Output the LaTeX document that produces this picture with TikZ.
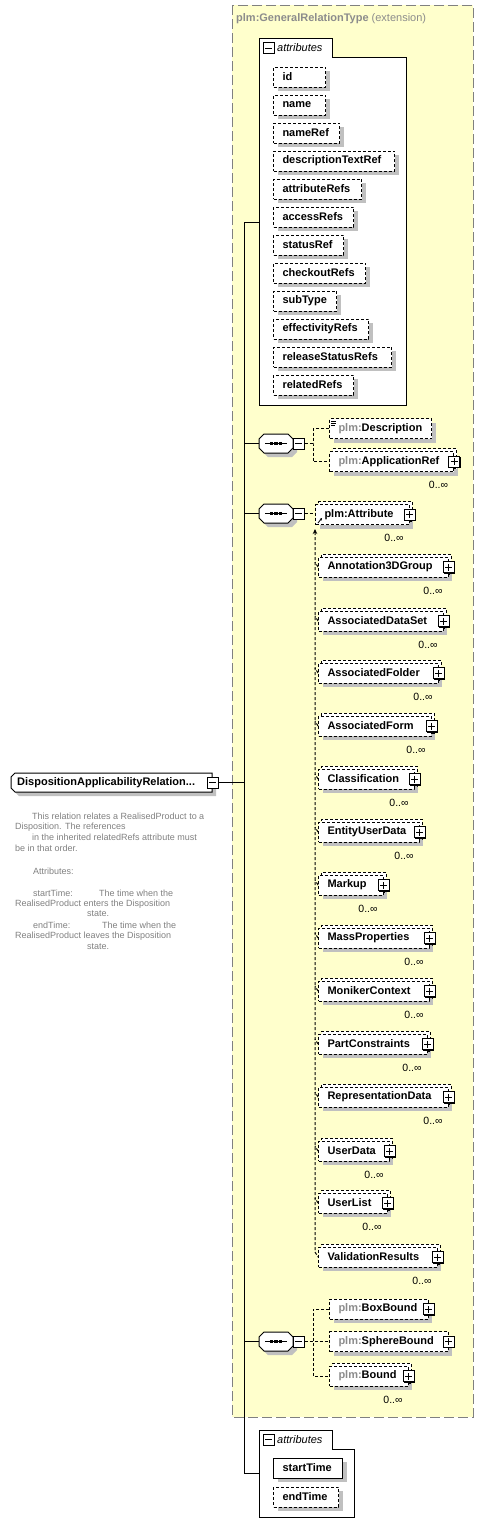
\documentclass[tikz,border=0pt]{standalone}
\usepackage{fontspec}
\setmainfont{Liberation Sans}
\usetikzlibrary{shadows,arrows.meta}
\definecolor{ylw}{RGB}{255,255,204}
\definecolor{gtxt}{RGB}{140,140,140}
\definecolor{dtxt}{RGB}{128,128,128}
\definecolor{shd}{RGB}{192,192,192}
\definecolor{extb}{RGB}{128,128,128}
\newcommand\pfx{\textcolor{gtxt}{plm:}}
\tikzset{
  lw/.style={line width=1pt},
  dsh/.style={dash pattern=on 3pt off 2pt},
  sh/.style={general shadow={fill=shd, draw=none, shadow xshift=4pt, shadow yshift=-4pt}},
  efont/.style={font=\bfseries\fontsize{11}{13}\selectfont},
  item/.style={draw, lw, fill=white, sh, anchor=west, minimum height=20pt, inner xsep=9pt, inner ysep=0pt, text width=#1, align=left, efont},
  opt/.style={item=#1, dsh},
  req/.style={item=#1},
  many/.style={item=#1, dsh, copy shadow={draw=black, fill=white, dsh, lw, shadow xshift=3pt, shadow yshift=3pt}},
  pbox/.style={draw, lw, solid, fill=white, minimum size=11pt, inner sep=0pt,
    general shadow={fill=black, draw=none, shadow xshift=1pt, shadow yshift=-1pt},
    path picture={
     \draw[line width=1pt] ([xshift=2pt]path picture bounding box.west) -- ([xshift=-2pt]path picture bounding box.east);
     \draw[line width=1pt] ([yshift=2pt]path picture bounding box.south) -- ([yshift=-2pt]path picture bounding box.north);}},
  mbox/.style={draw, lw, solid, fill=white, minimum size=11pt, inner sep=0pt,
    path picture={
     \draw[line width=1pt] ([xshift=2pt]path picture bounding box.west) -- ([xshift=-2pt]path picture bounding box.east);}},
  card/.style={inner sep=0pt, font=\fontsize{10.5}{12}\selectfont},
  dtext/.style={anchor=west, inner sep=0pt, text=dtxt, font=\fontsize{9}{10}\selectfont},
  tabtxt/.style={anchor=west, inner sep=0pt, font=\itshape\fontsize{11}{13}\selectfont},
  conn/.style={lw},
  dconn/.style={lw, dsh},
  extbox/.style={draw=extb, fill=ylw, line width=1pt, dash pattern=on 10pt off 4pt},
}
\newcommand\seqcomp[2]{%
  \draw[lw, fill=white, sh] (264,#2-9.5) -- (288,#2-9.5) -- (293,#2-4.5) -- (293,#2+4.5) -- (288,#2+9.5) -- (264,#2+9.5) -- (259,#2+4.5) -- (259,#2-4.5) -- cycle;
  \node[inner sep=0pt, minimum width=34pt, minimum height=19pt] (#1) at (276,#2) {};
  \draw[line width=1pt] (265,#2) -- (287,#2);
  \foreach \dx in {271.5,276,280.5} \fill (\dx-1.7,#2-1.3) rectangle (\dx+1.7,#2+1.3);
  \node[mbox] (#1m) at (298.5,#2) {};
}
\begin{document}
\begin{tikzpicture}[x=1pt,y=-1pt]
\useasboundingbox (0,0) rectangle (484,1535);
% extension area
\draw[extbox] (232,5) rectangle (473,1417);
\node[anchor=west, inner sep=0pt, text=gtxt, font=\fontsize{11}{13}\selectfont] (title) at (236,19) {\textbf{plm:GeneralRelationType} (extension)};

% inherited attributes
\draw[lw, fill=white] (259,38) -- (332,38) -- (332,57) -- (406,57) -- (406,405) -- (259,405) -- cycle;
\node[mbox] (atm) at (268.5,48) {};
\node[tabtxt] (att) at (277,48) {attributes};
\coordinate (attW) at (259,222);
\node[opt=34pt] (aid) at (273,77) {id};
\node[opt=34pt] (aname) at (273,105) {name};
\node[opt=48pt] (anameref) at (273,133) {nameRef};
\node[opt=103pt] (adesc) at (273,161) {descriptionTextRef};
\node[opt=70pt] (aattr) at (273,189) {attributeRefs};
\node[opt=62pt] (aacc) at (273,217) {accessRefs};
\node[opt=52pt] (astat) at (273,245) {statusRef};
\node[opt=74pt] (achk) at (273,273) {checkoutRefs};
\node[opt=45pt] (asub) at (273,301) {subType};
\node[opt=77pt] (aeff) at (273,329) {effectivityRefs};
\node[opt=100pt] (arel) at (273,357) {releaseStatusRefs};
\node[opt=62pt] (arld) at (273,385) {relatedRefs};

% root
\draw[lw, fill=white, sh] (15,773) -- (212,773) -- (212,792) -- (15,792) -- (11,788) -- (11,777) -- cycle;
\node[anchor=west, inner sep=0pt, efont] (root) at (17,782.5) {DispositionApplicabilityRelation...};
\node[mbox] (rootm) at (212.5,782.5) {};

% documentation
\node[dtext] (d1) at (32,816) {This relation relates a RealisedProduct to a};
\node[dtext] (d2) at (15,827) {Disposition. The references};
\node[dtext] (d3) at (32,837) {in the inherited relatedRefs attribute must};
\node[dtext] (d4) at (15,848) {be in that order.};
\node[dtext] (d5) at (33,871) {Attributes:};
\node[dtext] (d6) at (33,893) {startTime:};
\node[dtext] (d6b) at (99,893) {The time when the};
\node[dtext] (d7) at (15,904) {RealisedProduct enters the Disposition};
\node[dtext] (d8) at (87,914) {state.};
\node[dtext] (d9) at (33,925) {endTime:};
\node[dtext] (d9b) at (102,925) {The time when the};
\node[dtext] (d10) at (15,936) {RealisedProduct leaves the Disposition};
\node[dtext] (d11) at (87,947) {state.};

% sequence 1
\seqcomp{s1}{443.5}
\node[opt=84pt] (desc) at (329,428.5) {\pfx Description};
\draw[line width=0.6pt] (331,421) -- (336,421) (331,423) -- (336,423) (331,425) -- (335,425);
\node[many=106pt] (appref) at (329,461.5) {\pfx ApplicationRef};
\node[pbox] (apprefP) at (appref.east) {};
\node[card] (apprefC) at ([xshift=-15.5pt,yshift=-13pt]appref.south east) {0..∞};
\coordinate (b1) at (313,443.5);
\draw[dconn] (s1m.east) -- (b1);
\draw[dconn] (desc.west) -| (b1) |- (appref.west);

% sequence 2
\seqcomp{s2}{513.5}
\node[many=75.5pt] (attr) at (315,514.5) {plm:Attribute};
\node[pbox] (attrP) at (attr.east) {};
\node[card] (attrC) at ([xshift=-15.5pt,yshift=-13pt]attr.south east) {0..∞};
\draw[dconn] (s2m.east) -- (s2m.east -| attr.west);
\draw[line width=0.8pt, -{Stealth[length=2.5pt,width=2.5pt]}] (318,523) -- (322,518);
\foreach \n/\y/\w/\t in {a3d/567/111.5/Annotation3DGroup, ads/621/106.5/AssociatedDataSet,
  afo/673/101.5/AssociatedFolder, afm/726/94.5/AssociatedForm, cls/779/77.5/Classification,
  eud/832/82.5/EntityUserData, mku/885/46.5/Markup, mps/938/92.5/MassProperties,
  mon/991/92.5/MonikerContext, pcs/1044/90.5/PartConstraints, rpd/1097/111.5/RepresentationData,
  usd/1151/52.5/UserData, usl/1203/50.5/UserList, vrs/1257/100.5/ValidationResults}{
  \node[many=\w pt] (\n) at (318,\y) {\t};
  \node[pbox] (\n-P) at (\n.east) {};
  \node[card] (\n-C) at ([xshift=-15.5pt,yshift=-13pt]\n.south east) {0..∞};
}
\foreach \n in {a3d,ads,afo,afm,cls,eud,mku,mps,mon,pcs,rpd,usd,usl}{
  \draw[dconn] (\n.west) -- ++(-3,-5);
}
\coordinate (subtop) at (315,529);
\coordinate (subbot) at (315,1252);
\draw[dconn, {Stealth[length=5pt,width=4.5pt]}-] (subtop) -- (subbot) -- (vrs.west);

% sequence 3
\seqcomp{s3}{1341.5}
\node[opt=80.5pt] (bbx) at (329,1309) {\pfx BoxBound};
\node[pbox] (bbxP) at (bbx.east) {};
\node[opt=100.5pt] (sbd) at (329,1341.5) {\pfx SphereBound};
\node[pbox] (sbdP) at (sbd.east) {};
\node[many=60.5pt] (bnd) at (329,1376) {\pfx Bound};
\node[pbox] (bndP) at (bnd.east) {};
\node[card] (bndC) at ([xshift=-15.5pt,yshift=-13pt]bnd.south east) {0..∞};
\coordinate (b3) at (313,1341.5);
\draw[dconn] (s3m.east) -- (sbd.west);
\draw[dconn] (bbx.west) -| (b3) |- (bnd.west);

% own attributes
\draw[lw, fill=white] (259,1430) -- (332,1430) -- (332,1449) -- (354,1449) -- (354,1517) -- (259,1517) -- cycle;
\node[mbox] (btm) at (268.5,1439.5) {};
\node[tabtxt] (btt) at (277,1440) {attributes};
\coordinate (battW) at (259,1473);
\node[req=51pt] (stt) at (273,1468) {startTime};
\node[opt=47pt] (ent) at (273,1497) {endTime};

% trunk
\coordinate (tA) at (244,222);
\coordinate (tB) at (244,1473);
\draw[conn] (attW) -- (tA) -- (tB) -- (battW);
\draw[conn] (rootm.east) -- (rootm.east -| tA);
\draw[conn] (s1.west -| tA) -- (s1.west);
\draw[conn] (s2.west -| tA) -- (s2.west);
\draw[conn] (s3.west -| tA) -- (s3.west);
\end{tikzpicture}
\end{document}
